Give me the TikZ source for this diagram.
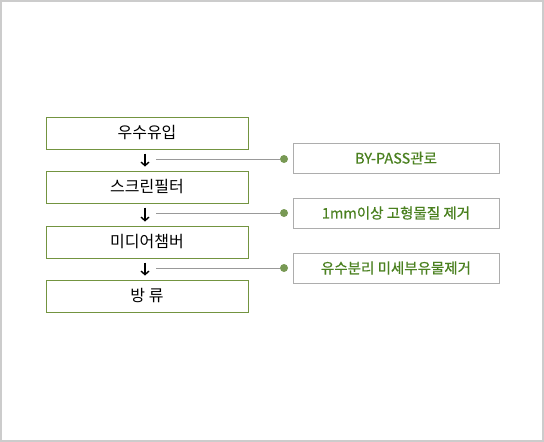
\documentclass[tikz,border=0pt]{standalone}
\usepackage{fontspec}
\newfontfamily\krfont{Noto Sans CJK KR}
\newfontfamily\notefont[AutoFakeBold=0.6]{Noto Sans CJK KR}
\definecolor{FrameClr}{rgb}{0.8,0.8,0.8}
\definecolor{StepClr}{rgb}{0.45,0.58,0.25}
\definecolor{NoteClr}{rgb}{0.29,0.5,0.12}
\definecolor{DotClr}{rgb}{0.47,0.6,0.33}
\definecolor{LineClr}{rgb}{0.6,0.6,0.6}
\usetikzlibrary{arrows.meta}

\begin{document}
\begin{tikzpicture}[x=1pt,y=-1pt,
  stepbox/.style={draw=StepClr,line width=1pt,minimum width=202pt,minimum height=32pt,
    inner sep=0pt,font=\krfont\fontsize{16}{16}\selectfont},
  notebox/.style={draw=LineClr!80,line width=1pt,minimum width=206pt,minimum height=30pt,
    inner sep=0pt,text=NoteClr,font=\notefont\bfseries\fontsize{14.5}{14.5}\selectfont},
  dot/.style={circle,fill=DotClr,minimum size=8pt,inner sep=0pt},
  link/.style={draw=LineClr,line width=1pt},
  flow/.style={->,>={Straight Barb[length=3.5pt,width=8pt]},line width=1.4pt,shorten <=4pt,shorten >=4pt}]
\useasboundingbox (0,0) rectangle (544,442);
\draw[FrameClr,line width=2pt] (1,1) rectangle (543,441);

\node[stepbox] (s1) at (147,133) {우수유입};
\node[stepbox] (s2) at (147,187) {스크린필터};
\node[stepbox] (s3) at (147,242) {미디어챔버};
\node[stepbox] (s4) at (147,296) {방 류};

\foreach \a/\b in {s1/s2,s2/s3,s3/s4}
  \draw[flow] ([xshift=-2pt]\a.south) -- ([xshift=-2pt]\b.north);

\node[notebox] (n1) at (396,158) {BY-PASS관로};
\node[notebox] (n2) at (396,213) {1mm이상 고형물질 제거};
\node[notebox] (n3) at (396,268) {유수분리 미세부유물제거};

\foreach \i/\y in {1/159,2/213,3/268}{
  \node[dot] (d\i) at (284,\y) {};
  \coordinate (c\i) at (156,\y);
  \draw[link] (c\i) -- (d\i);
}
\end{tikzpicture}
\end{document}
